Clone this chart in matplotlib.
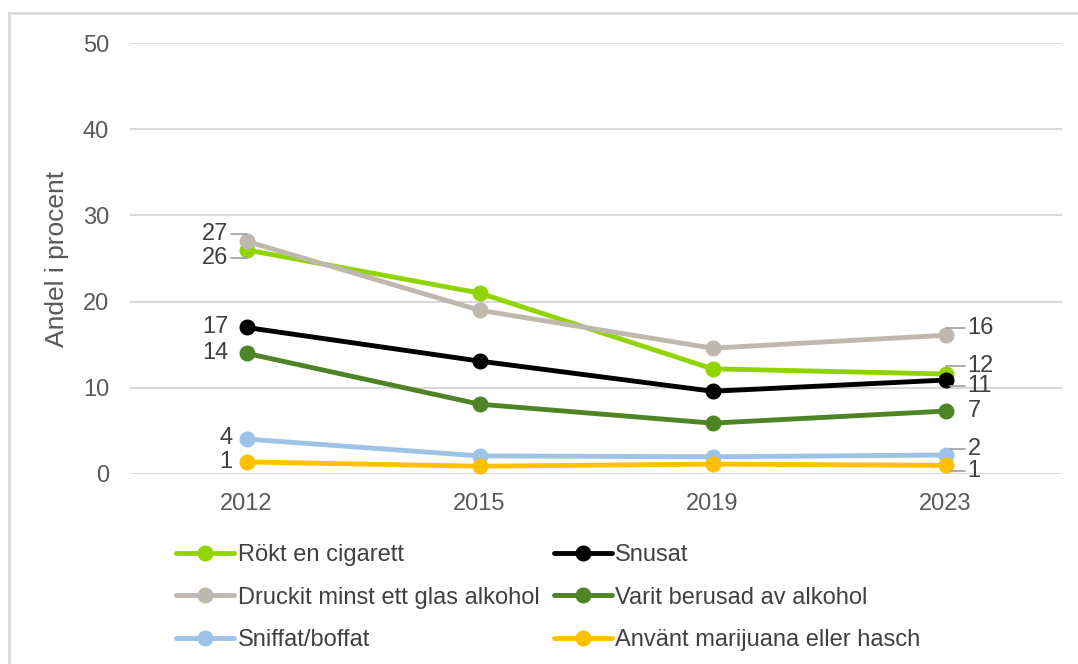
import matplotlib.pyplot as plt
from matplotlib.lines import Line2D

plt.rcParams['font.family'] = ['Liberation Sans', 'DejaVu Sans']

years = ['2012', '2015', '2019', '2023']

rokt = [26.0, 21.0, 12.2, 11.6]
snusat = [17.0, 13.1, 9.6, 10.9]
druckit = [27.0, 19.0, 14.6, 16.1]
berusad = [14.0, 8.1, 5.9, 7.3]
sniffat = [4.05, 2.1, 2.0, 2.2]
marijuana = [1.4, 0.9, 1.15, 1.0]

names = ['Rökt en cigarett', 'Snusat', 'Druckit minst ett glas alkohol',
         'Varit berusad av alkohol', 'Sniffat/boffat', 'Använt marijuana eller hasch']
series = [rokt, snusat, druckit, berusad, sniffat, marijuana]
colors = ['#92D400', '#000000', '#BFB8AF', '#4E8426', '#9DC3E6', '#FFC000']

# data labels: (first label, last label)
first_lab = ['26', '17', '27', '14', '4', '1']
last_lab = ['12', '11', '16', '7', '2', '1']

TXT = '#404040'
GRID = '#D9D9D9'
FS = 17

fig = plt.figure(figsize=(10.78, 6.64), dpi=100)
ax = fig.add_axes([130/1078, 1-474/664, (1062-130)/1078, (474-43)/664])

x = range(len(years))
handles = []
for vals, c, n in zip(series, colors, names):
    h, = ax.plot(x, vals, color=c, lw=3.5, marker='o', ms=10.5, label=n,
                 solid_capstyle='round', zorder=3)
    handles.append(h)

ax.set_xlim(-0.5, 3.5)
ax.set_ylim(0, 50)
ax.set_yticks(range(0, 51, 10))
ax.set_xticks(list(x))
ax.set_xticklabels(years)
ax.grid(axis='y', color=GRID, lw=1.5)
ax.set_axisbelow(True)
for s in ax.spines.values():
    s.set_visible(False)
ax.tick_params(length=0, labelsize=FS, labelcolor='#595959')
ax.tick_params(axis='y', pad=15)
ax.tick_params(axis='x', pad=14)
ax.set_ylabel('Andel i procent', fontsize=19, color='#595959', labelpad=10)

# label offsets in points (dx, dy) and whether a leader line is drawn
left_off = {0: (-13, -6, True), 1: (-13, 0, False), 2: (-13, 5, True),
            3: (-13, 0, False), 4: (-10, 1, False), 5: (-10, 0, False)}
right_off = {0: (16, 6, True), 1: (16, -4, True), 2: (16, 5, True),
             3: (16, 0, False), 4: (16, 4, True), 5: (16, -4, True)}

lead = dict(arrowstyle='-', color='#A6A6A6', lw=1.3, shrinkA=0, shrinkB=5,
            connectionstyle='angle,angleA=0,angleB=90,rad=0')
for i, vals in enumerate(series):
    dx, dy, ld = left_off[i]
    ax.annotate(first_lab[i], (0, vals[0]), xytext=(dx, dy), textcoords='offset points',
                ha='right', va='center', fontsize=FS, color=TXT,
                arrowprops=lead if ld else None)
    dx, dy, ld = right_off[i]
    ax.annotate(last_lab[i], (3, vals[3]), xytext=(dx, dy), textcoords='offset points',
                ha='left', va='center', fontsize=FS, color=TXT,
                arrowprops=lead if ld else None)

order = [0, 2, 4, 1, 3, 5]
fig.legend([handles[i] for i in order], [names[i] for i in order],
           loc='upper left', bbox_to_anchor=(167/1078, 1-535/664), ncol=2,
           frameon=False, fontsize=FS, handlelength=2.45, handletextpad=0.15,
           columnspacing=0.6, labelspacing=0.86, labelcolor=TXT,
           borderaxespad=0)

# outer chart border (top and left edges)
fig.add_artist(Line2D([9/1078, 1], [1-13/664, 1-13/664], color=GRID, lw=2,
                      transform=fig.transFigure))
fig.add_artist(Line2D([9/1078, 9/1078], [0, 1-13/664], color=GRID, lw=2,
                      transform=fig.transFigure))

fig.savefig('out.png', dpi=100)
